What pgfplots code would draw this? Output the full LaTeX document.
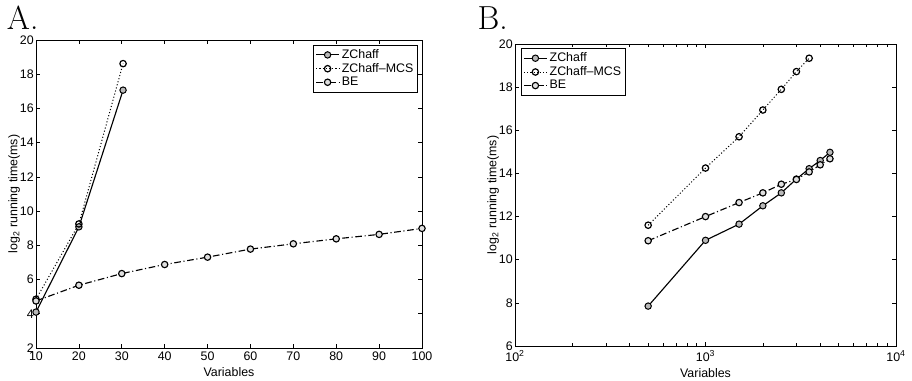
\documentclass[border=0pt]{standalone}
\usepackage{pgfplots}
\pgfplotsset{compat=1.18}
\usepackage{fontspec}
\newfontfamily\sans{Liberation Sans}
\newcommand{\plotfont}{\sans\fontsize{9.3}{10.5}\selectfont}
\pgfplotsset{
  matlab/.style={
    scale only axis,
    axis line style={line width=0.7pt},
    tick align=inside,
    major tick length=3pt,
    minor tick length=2pt,
    tick style={line width=0.5pt, black},
    tick label style={font=\plotfont, inner sep=1.5pt},
    xticklabel style={yshift=-1.5pt},
    label style={font=\plotfont},
    legend style={font=\plotfont, draw=black, line width=0.6pt, inner sep=1.5pt, row sep=-1.5pt,
      legend cell align=left, nodes={inner sep=1.8pt}},
    legend image code/.code={\draw[mark repeat=2,mark phase=2,#1] plot coordinates {(0pt,0pt) (8.5pt,0pt) (17pt,0pt)};},
  },
  zc/.style={black, line width=0.85pt, mark=*, mark size=2.4pt, mark options={solid, fill=gray!55, draw=black, line width=0.75pt}},
  mcs/.style={black, line width=0.75pt, dash pattern=on 0.8pt off 1.6pt, mark=o, mark size=2.4pt, mark options={solid, fill=white, line width=0.9pt}},
  be/.style={black, line width=0.85pt, dash pattern=on 5pt off 2pt on 0.8pt off 2pt, mark=*, mark size=2.4pt, mark options={solid, fill=gray!25, draw=black, line width=0.85pt}},
}
\begin{document}
\begin{tikzpicture}
\path[use as bounding box] (0pt,0pt) rectangle (684pt,285pt);
\node[anchor=base west, inner sep=0pt] at (5pt,263pt) {\fontsize{25}{25}\selectfont A.};
\node[anchor=base west, inner sep=0pt] at (358pt,263pt) {\fontsize{25}{25}\selectfont B.};

\begin{axis}[matlab,
  at={(27pt,24pt)}, anchor=south west,
  width=289.5pt, height=231pt,
  xmin=10, xmax=100, ymin=2, ymax=20,
  xtick={10,20,30,40,50,60,70,80,90,100},
  xticklabels={{\plotfont 10},{\plotfont 20},{\plotfont 30},{\plotfont 40},{\plotfont 50},{\plotfont 60},{\plotfont 70},{\plotfont 80},{\plotfont 90},{\plotfont 100}},
  ytick={2,4,6,8,10,12,14,16,18,20},
  yticklabels={{\plotfont 2},{\plotfont 4},{\plotfont 6},{\plotfont 8},{\plotfont 10},{\plotfont 12},{\plotfont 14},{\plotfont 16},{\plotfont 18},{\plotfont 20}},
  xlabel={Variables}, ylabel={log\textsubscript{2} running time(ms)},
  xlabel style={yshift=0pt},
  ylabel style={yshift=-5pt},
  legend style={at={(0.99,0.985)}, anchor=north east},
]
\addplot[zc] coordinates {(10,4.1) (20,9.08) (30.3,17.07)};
\addlegendentry{ZChaff}
\addplot[mcs] coordinates {(10,4.85) (20,9.25) (30.3,18.62)};
\addlegendentry{ZChaff–MCS}
\addplot[be] coordinates {(10,4.75) (20,5.67) (30,6.35) (40,6.88) (50,7.31) (60,7.78) (70,8.09) (80,8.38) (90,8.64) (100,8.99)};
\addlegendentry{BE}
\end{axis}

\begin{axis}[matlab,
  at={(386.25pt,25.5pt)}, anchor=south west,
  width=285.75pt, height=226.5pt,
  xmode=log,
  xmin=100, xmax=10000, ymin=6, ymax=20,
  xtick={100,1000,10000},
  xticklabels={{\plotfont 10\textsuperscript{2}},{\plotfont 10\textsuperscript{3}},{\plotfont 10\textsuperscript{4}}},
  ytick={6,8,10,12,14,16,18,20},
  yticklabels={{\plotfont 6},{\plotfont 8},{\plotfont 10},{\plotfont 12},{\plotfont 14},{\plotfont 16},{\plotfont 18},{\plotfont 20}},
  xlabel={Variables}, ylabel={log\textsubscript{2} running time(ms)},
  xlabel style={yshift=0pt},
  ylabel style={yshift=-5pt},
  legend style={at={(0.016,0.987)}, anchor=north west},
]
\addplot[zc] coordinates {(500,7.85) (1000,10.9) (1500,11.65) (2000,12.5) (2500,13.1) (3000,13.74) (3500,14.22) (4000,14.6) (4500,14.98)};
\addlegendentry{ZChaff}
\addplot[mcs] coordinates {(500,11.6) (1000,14.25) (1500,15.7) (2000,16.94) (2500,17.9) (3000,18.72) (3500,19.34)};
\addlegendentry{ZChaff–MCS}
\addplot[be] coordinates {(500,10.88) (1000,12.0) (1500,12.65) (2000,13.1) (2500,13.5) (3000,13.72) (3500,14.07) (4000,14.4) (4500,14.68)};
\addlegendentry{BE}
\end{axis}
\end{tikzpicture}
\end{document}
